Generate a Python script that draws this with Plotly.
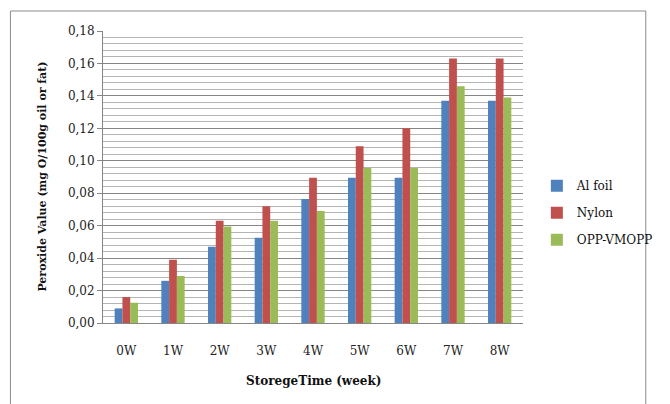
import plotly.graph_objects as go

# Storage weeks on the category axis
weeks = ["0W", "1W", "2W", "3W", "4W", "5W", "6W", "7W", "8W"]

# Peroxide value per packaging material (mg O/100g oil or fat)
al_foil = [0.009, 0.026, 0.047, 0.0525, 0.0765, 0.0895, 0.0895, 0.137, 0.137]
nylon = [0.016, 0.039, 0.063, 0.072, 0.0895, 0.109, 0.120, 0.163, 0.163]
opp_vmopp = [0.0125, 0.029, 0.0595, 0.063, 0.069, 0.0956, 0.0956, 0.146, 0.139]

series_names = ["Al foil", "Nylon", "OPP-VMOPP"]
series_values = [al_foil, nylon, opp_vmopp]
series_colors = ["#4F81BD", "#C0504D", "#9BBB59"]

y_ticks = [0.00, 0.02, 0.04, 0.06, 0.08, 0.10, 0.12, 0.14, 0.16, 0.18]
y_tick_labels = ["0,00", "0,02", "0,04", "0,06", "0,08", "0,10", "0,12", "0,14", "0,16", "0,18"]

FONT = "DejaVu Serif"

fig = go.Figure()
for name, vals, col in zip(series_names, series_values, series_colors):
    fig.add_trace(go.Bar(
        x=weeks, y=vals, name=name, legendgroup=name,
        marker=dict(color=col, line=dict(width=0)),
    ))

fig.update_layout(
    width=670, height=404,
    margin=dict(l=103, r=136, t=31, b=81),
    paper_bgcolor="white", plot_bgcolor="white",
    barmode="group", bargap=0.5, bargroupgap=0,
    font=dict(family=FONT, size=12, color="#222222"),
    showlegend=True,
    legend=dict(
        x=1.033, y=0.52, xanchor="left", yanchor="top",
        font=dict(family=FONT, size=12, color="#111111"),
        tracegroupgap=8, bgcolor="rgba(0,0,0,0)",
    ),
    xaxis=dict(
        type="category", showgrid=False, zeroline=False,
        showline=True, linecolor="#868686", linewidth=1,
        ticks="", ticklabelstandoff=17,
        tickfont=dict(family=FONT, size=12, color="#222222"),
    ),
    yaxis=dict(
        range=[0, 0.18], tickvals=y_ticks, ticktext=y_tick_labels,
        showgrid=True, gridcolor="#868686", gridwidth=1,
        minor=dict(dtick=0.004, showgrid=True, gridcolor="#b4b4b4", gridwidth=1, ticks=""),
        zeroline=False, showline=True, linecolor="#868686", linewidth=1,
        ticks="outside", ticklen=5, tickcolor="#868686",
        tickfont=dict(family=FONT, size=12, color="#222222"),
    ),
    annotations=[
        dict(text="<b>StoregeTime (week)</b>", xref="paper", yref="paper",
             x=0.5, y=-58 / 292, xanchor="center", yanchor="middle",
             showarrow=False, font=dict(family=FONT, size=12, color="#111111")),
        dict(text="<b>Peroxide Value (mg O/100g oil or fat)</b>", xref="paper", yref="paper",
             x=-63 / 431, y=0.5, xanchor="center", yanchor="middle", textangle=-90,
             showarrow=False, font=dict(family=FONT, size=11, color="#111111")),
    ],
    shapes=[
        dict(type="rect", xref="paper", yref="paper",
             x0=-95 / 431, x1=1 + 126 / 431, y0=-90 / 292, y1=1 + 20 / 292,
             line=dict(color="#8c8c8c", width=1), fillcolor="rgba(0,0,0,0)", layer="below"),
    ],
)

fig.write_html("out.html")
